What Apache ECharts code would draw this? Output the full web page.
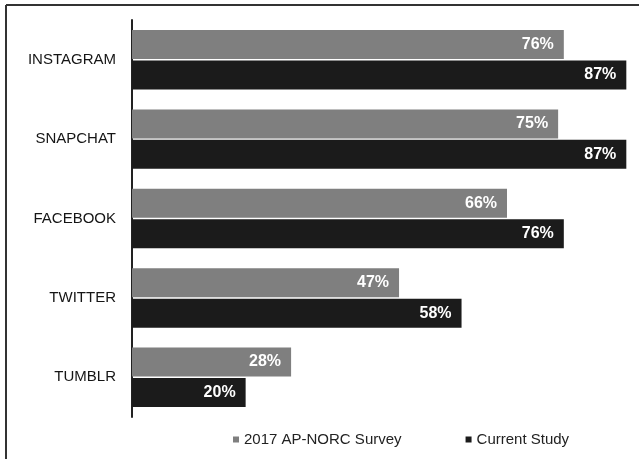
<!DOCTYPE html>
<html>
<head>
<meta charset="utf-8">
<script src="https://cdn.jsdelivr.net/npm/echarts@6/dist/echarts.min.js"></script>
<style>
html,body{margin:0;padding:0;background:#fff;}
#chart{width:639px;height:459px;}
</style>
</head>
<body>
<div id="chart"></div>
<script>
var categories = ['INSTAGRAM', 'SNAPCHAT', 'FACEBOOK', 'TWITTER', 'TUMBLR'];
var seriesNames = ['2017 AP-NORC Survey', 'Current Study'];
var survey2017 = [76, 75, 66, 47, 28];
var currentStudy = [87, 87, 76, 58, 20];

var chart = echarts.init(document.getElementById('chart'), null, {renderer: 'canvas'});
var labelCfg = {
  show: true,
  position: 'insideRight',
  distance: 10,
  color: '#fff',
  fontFamily: 'Liberation Sans, Arial, sans-serif',
  fontWeight: 'bold',
  fontSize: 16,
  formatter: function (p) { return p.value + '%'; }
};
chart.setOption({
  animation: false,
  backgroundColor: '#fff',
  graphic: [
    {type: 'line', shape: {x1: 6, y1: 5, x2: 6, y2: 459}, style: {stroke: '#333', lineWidth: 2}},
    {type: 'line', shape: {x1: 6, y1: 5, x2: 639, y2: 5}, style: {stroke: '#333', lineWidth: 2}}
  ],
  grid: {left: 132, top: 20, width: 500, height: 397, containLabel: false},
  legend: {
    data: seriesNames,
    left: 228,
    top: 427,
    icon: 'rect',
    itemWidth: 6,
    itemHeight: 6,
    itemGap: 64,
    textStyle: {color: '#222', fontSize: 15, fontFamily: 'Liberation Sans, Arial, sans-serif'}
  },
  xAxis: {
    type: 'value', min: 0, max: 88,
    show: false,
    splitLine: {show: false}
  },
  yAxis: {
    type: 'category',
    data: categories,
    inverse: true,
    axisLine: {show: true, lineStyle: {color: '#222', width: 2}},
    axisTick: {show: false},
    axisLabel: {
      margin: 16,
      color: '#151515',
      fontSize: 15,
      fontFamily: 'Liberation Sans, Arial, sans-serif'
    }
  },
  series: [
    {
      name: seriesNames[0], type: 'bar', data: survey2017,
      barWidth: 29, barGap: '5%',
      itemStyle: {color: '#7f7f7f'},
      label: labelCfg
    },
    {
      name: seriesNames[1], type: 'bar', data: currentStudy,
      barWidth: 29, barGap: '5%',
      itemStyle: {color: '#1b1b1b'},
      label: labelCfg
    }
  ]
});
</script>
</body>
</html>
